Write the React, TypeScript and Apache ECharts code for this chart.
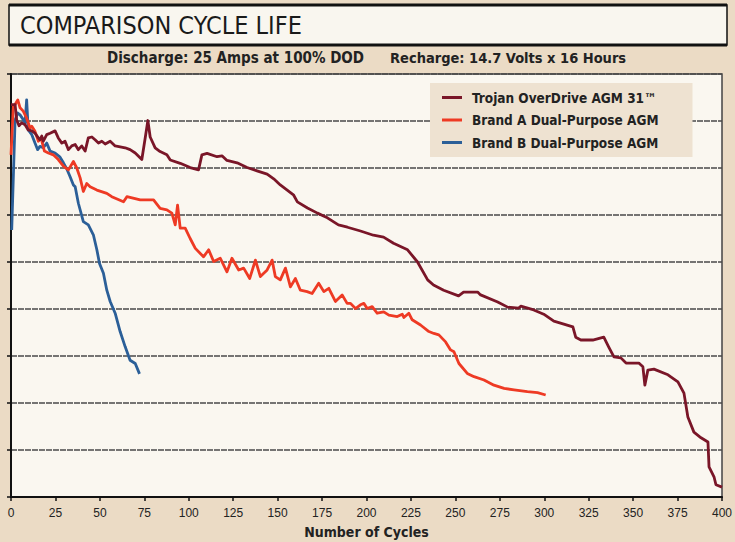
import React, { useEffect, useRef } from "react";
import * as echarts from "echarts";

const xTicks = [0, 25, 50, 75, 100, 125, 150, 175, 200, 225, 250, 275, 300, 325, 350, 375, 400];

const seriesNames = [
  "Trojan OverDrive AGM 31™",
  "Brand A Dual-Purpose AGM",
  "Brand B Dual-Purpose AGM",
];

const trojanData: [number, number][] = [
  [0, 83.5], [2.3, 83.5], [3.2, 80.2], [4.5, 79.0], [6, 79.6], [7.9, 79.2], [9.7, 78.1], [11.7, 77.9],
  [13.5, 77.4], [15.4, 76.4], [16.3, 76.0], [17.3, 76.8], [18.2, 75.7], [20.1, 77.1], [22, 77.4],
  [24.8, 77.9], [26.6, 76.4], [28.6, 75.3], [30.4, 75.7], [32.3, 73.9], [34.2, 74.7], [36.1, 75.0],
  [37.9, 73.9], [39.8, 74.7], [41.7, 73.6], [43.5, 76.4], [45.5, 76.6], [47.3, 76.0], [49.2, 75.3],
  [51.1, 75.7], [53, 75.1], [55.8, 75.7], [58.6, 74.7], [61.4, 74.5], [64.2, 74.3], [67, 73.9],
  [69.9, 73.2], [73.6, 71.8], [75.5, 76.4], [77, 80.1], [78.3, 76.6], [81.1, 74.3], [83.9, 73.5],
  [87.7, 72.8], [89.6, 71.7], [95.2, 71.0], [100.8, 70.1], [105.5, 69.6], [107.4, 72.8], [110.3, 73.1],
  [115.9, 72.4], [118.7, 72.6], [121.5, 71.6], [127.2, 71.1], [132.8, 70.1], [138.4, 69.4], [144.1, 68.7],
  [147.8, 67.7], [151.5, 66.4], [158.9, 64.3], [161.1, 62.8], [166.8, 61.5], [172.4, 60.4], [178, 59.4],
  [184.2, 57.9], [189.3, 57.4], [196.6, 56.6], [203.9, 55.7], [209.6, 55.3], [215.2, 54.0], [223.1, 52.6],
  [228.7, 50.0], [234.4, 46.2], [237.7, 45.1], [243.4, 44.0], [251.8, 42.8], [254.6, 43.6], [262.5, 43.6],
  [264.2, 43.0], [273.8, 41.5], [279.4, 40.4], [285.6, 40.2], [286.8, 40.6], [294.1, 39.8], [299.7, 38.9],
  [305.4, 37.4], [311, 36.8], [316.1, 36.2], [317.7, 34.0], [320.6, 33.4], [327.3, 33.4], [333.5, 34.0],
  [336.3, 31.9], [339.2, 29.8], [343.1, 29.6], [346, 28.5], [353.2, 28.5], [355.5, 27.7], [356.6, 23.8],
  [358.3, 27.0], [361.7, 27.2], [369.6, 26.0], [375.2, 24.5], [378.6, 22.1], [380.8, 17.0], [384.2, 13.8],
  [388.2, 12.6], [392.1, 11.7], [392.7, 6.4], [395.5, 4.3], [396.6, 2.6], [400, 2.1],
];

const brandAData: [number, number][] = [
  [0, 72.8], [1.3, 83.1], [2.3, 83.5], [3.8, 84.5], [5.1, 82.8], [6.9, 82.1], [8.8, 80.6], [10.7, 78.5],
  [11.7, 78.9], [13.5, 77.8], [15.4, 75.7], [16.9, 76.4], [18.8, 73.6], [21, 73.2], [23.8, 72.8],
  [26.6, 71.8], [29.5, 70.4], [32.3, 69.6], [35.1, 71.4], [37, 70.0], [38.9, 67.9], [40.7, 65.0],
  [42.6, 66.7], [44.5, 66.0], [48.3, 65.3], [53.9, 64.6], [56.7, 63.9], [63.3, 62.8], [65.2, 63.9],
  [72.7, 63.2], [80.2, 63.2], [83.9, 61.4], [87.7, 61.1], [90.5, 60.4], [92.4, 57.9], [93.7, 62.1],
  [95.2, 57.2], [98, 57.2], [100.8, 55.0], [103.7, 52.9], [108.3, 51.1], [111.2, 52.6], [114, 50.1],
  [117.7, 50.8], [121.5, 47.9], [124.3, 50.8], [128.1, 48.3], [130.9, 48.7], [134.3, 46.5], [137.5, 50.4],
  [140.3, 46.9], [144.1, 48.3], [146.9, 50.4], [148.7, 46.9], [151.5, 46.2], [154.4, 48.7], [157.2, 44.7],
  [160, 46.5], [162.8, 44.0], [166.6, 43.7], [169.4, 43.3], [173.1, 45.5], [176, 43.7], [178.8, 44.4],
  [182.5, 41.6], [186.3, 43.0], [189.1, 41.2], [191, 41.2], [193.8, 40.1], [196.6, 40.9], [198.5, 41.2],
  [200.4, 40.1], [203.2, 40.5], [206, 39.1], [209.7, 39.4], [212.6, 38.7], [217.3, 38.4], [220.1, 38.9],
  [221, 38.2], [223.8, 39.1], [225.7, 37.7], [230.4, 36.6], [235.1, 35.2], [237.9, 34.8], [240.7, 34.5],
  [244.5, 33.0], [247.3, 31.3], [249.2, 30.9], [252, 28.4], [256.7, 26.3], [260.5, 25.6], [266.1, 24.9],
  [271.7, 23.8], [277.4, 23.1], [283, 22.8], [290.5, 22.4], [296.2, 22.2], [300.8, 21.7],
];

const brandBData: [number, number][] = [
  [0.4, 56.8], [2.3, 80.2], [3.8, 81.7], [5.1, 81.3], [6.9, 80.3], [7.9, 79.6], [8.8, 84.5], [9.7, 78.1],
  [11.7, 77.1], [13.5, 75.3], [15, 73.9], [16.3, 74.6], [18.2, 74.3], [20.1, 75.3], [22, 73.6],
  [24.8, 73.2], [27.6, 72.3], [29.5, 71.1], [31.4, 69.8], [33.2, 68.2], [35.1, 66.4], [36.1, 66.0],
  [37.9, 62.5], [40.7, 58.6], [43.5, 57.9], [46.4, 55.7], [48.3, 52.6], [49.8, 49.7], [52, 47.6],
  [53.9, 44.0], [55.8, 41.6], [58.6, 39.1], [61.4, 35.2], [64.2, 32.0], [67, 29.1], [69.9, 28.4],
  [72.3, 26.2],
];

const colors = ["#7a1628", "#ee3a24", "#2b5f98"];
const condensed = "'Liberation Sans Narrow', 'DejaVu Sans Condensed', 'Liberation Sans', sans-serif";

export default function App() {
  const ref = useRef<HTMLDivElement>(null);
  useEffect(() => {
    document.body.style.margin = "0";
    const chart = echarts.init(ref.current!, null, { renderer: "svg" });
    const datasets = [trojanData, brandAData, brandBData];
    chart.setOption({
      animation: false,
      backgroundColor: "#ebdbc5",
      graphic: [
        {
          type: "rect",
          shape: { x: 9, y: 5, width: 718, height: 40 },
          style: { fill: "#f9f6ef", stroke: "#111", lineWidth: 1.5 },
          z: 0,
        },
        { type: "line", shape: { x1: 9, y1: 5, x2: 727, y2: 5 }, style: { stroke: "#111", lineWidth: 3 } },
        { type: "line", shape: { x1: 9, y1: 45, x2: 727, y2: 45 }, style: { stroke: "#111", lineWidth: 3 } },
        {
          type: "text",
          x: 20,
          y: 13,
          style: { text: "COMPARISON CYCLE LIFE", fill: "#1a1a1a", font: `25px ${condensed}` },
        },
        {
          type: "text",
          x: 107,
          y: 50,
          style: { text: "Discharge: 25 Amps at 100% DOD", fill: "#222", font: `bold 15px ${condensed}` },
        },
        {
          type: "text",
          x: 390,
          y: 50,
          style: { text: "Recharge: 14.7 Volts x 16 Hours", fill: "#222", font: `bold 14.5px ${condensed}` },
        },
      ],
      grid: {
        left: 11,
        right: 13,
        top: 74,
        bottom: 45,
        outerBoundsMode: "none",
        containLabel: false,
        show: true,
        backgroundColor: "#faf7f0",
        borderColor: "#444",
        borderWidth: 1.5,
      },
      legend: {
        data: seriesNames,
        orient: "vertical",
        left: 430,
        top: 83,
        backgroundColor: "#eee2d1",
        padding: [7, 34, 7, 12],
        itemGap: 7.5,
        itemWidth: 20,
        itemHeight: 3,
        icon: "rect",
        textStyle: {
          fontFamily: condensed,
          fontWeight: "bold",
          fontSize: 13.5,
          lineHeight: 15,
          color: "#222",
          padding: [0, 0, 0, 5],
        },
      },
      xAxis: {
        type: "value",
        min: 0,
        max: 400,
        interval: 25,
        name: "Number of Cycles",
        nameLocation: "middle",
        nameGap: 28,
        nameTextStyle: { fontFamily: condensed, fontWeight: "bold", fontSize: 14, color: "#222" },
        axisLine: { show: true, lineStyle: { color: "#111", width: 2 } },
        axisTick: { show: true, length: 4, lineStyle: { color: "#111", width: 1.5 } },
        axisLabel: {
          margin: 10,
          fontFamily: "'Liberation Sans', Arial, sans-serif",
          fontSize: 12,
          color: "#222",
          formatter: (v: number) => (xTicks.includes(v) ? String(v) : ""),
        },
        splitLine: { show: false },
      },
      yAxis: {
        type: "value",
        min: 0,
        max: 90,
        interval: 10,
        axisLine: { show: true, lineStyle: { color: "#111", width: 2 } },
        axisTick: { show: true, length: 4, lineStyle: { color: "#111", width: 1.5 } },
        axisLabel: { show: false },
        splitLine: { show: true, lineStyle: { color: "#4a4a4a", width: 1.5, type: [6, 1] } },
      },
      series: seriesNames.map((name, i) => ({
        name,
        type: "line",
        data: datasets[i],
        showSymbol: false,
        symbol: "none",
        lineStyle: { color: colors[i], width: 2.8, join: "round" },
        itemStyle: { color: colors[i] },
        z: 3 - i,
      })),
    });
    return () => chart.dispose();
  }, []);
  return <div ref={ref} style={{ width: 735, height: 542 }} />;
}
